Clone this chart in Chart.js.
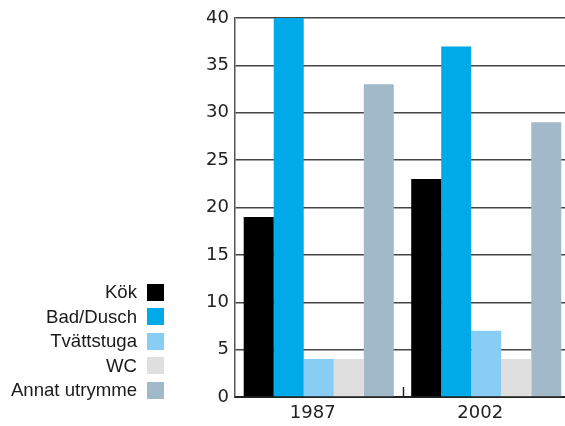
<!DOCTYPE html>
<html>
<head>
<meta charset="utf-8">
<script src="https://cdn.jsdelivr.net/npm/chart.js@4/dist/chart.umd.min.js"></script>
<style>
  html, body { margin: 0; padding: 0; background: #fff; overflow: hidden; }
  #wrap { position: relative; width: 570px; height: 426px; }
  #legend {
    position: absolute; left: 0; top: 280px; width: 164px;
    font-family: "Liberation Sans", Arial, sans-serif; font-size: 18.6px; color: #1a1a1a;
  }
  #legend .row { display: flex; justify-content: flex-end; align-items: center; height: 24.5px; }
  #legend .box { width: 17px; height: 17px; margin-left: 10px; flex: none; }
</style>
</head>
<body>
<div id="wrap">
  <canvas id="chart"></canvas>
  <div id="legend"></div>
</div>
<script>
"use strict";

// Data
const years = ["1987", "2002"];
const rooms = ["Kök", "Bad/Dusch", "Tvättstuga", "WC", "Annat utrymme"];
const kok = [19, 23];
const badDusch = [40, 37];
const tvattstuga = [4, 7];
const wc = [4, 4];
const annat = [33, 29];
const yTicks = [0, 5, 10, 15, 20, 25, 30, 35, 40];

const seriesValues = [kok, badDusch, tvattstuga, wc, annat];
const seriesColors = ["#000000", "#00aae9", "#88cdf3", "#dfdfdf", "#a2b9c9"];

const PLOT_LEFT = 235; // x of the y axis in the reference
const X_AXIS_HEIGHT = 29; // room under the plot for the year labels

// legend: text on the left, swatch on the right
const legendEl = document.getElementById("legend");
rooms.forEach((name, i) => {
  const row = document.createElement("div");
  row.className = "row";
  const label = document.createElement("span");
  label.textContent = name;
  const box = document.createElement("span");
  box.className = "box";
  box.style.background = seriesColors[i];
  row.appendChild(label);
  row.appendChild(box);
  legendEl.appendChild(row);
});

// small tick mark between the year groups, rising from the x axis
const groupDivider = {
  id: "groupDivider",
  afterDatasetsDraw(chart) {
    const x = chart.scales.x;
    const y = chart.scales.y;
    const ctx = chart.ctx;
    ctx.save();
    ctx.strokeStyle = "#222";
    ctx.lineWidth = 1.5;
    for (let i = 0; i < years.length - 1; i++) {
      const px = Math.round((x.getPixelForValue(i) + x.getPixelForValue(i + 1)) / 2) + 0.5;
      const base = y.getPixelForValue(0);
      ctx.beginPath();
      ctx.moveTo(px, base);
      ctx.lineTo(px, base - 10);
      ctx.stroke();
    }
    ctx.restore();
  },
};

const tickFont = { family: "'DejaVu Sans', sans-serif", size: 18 };

const ctx = document.getElementById("chart").getContext("2d");
new Chart(ctx, {
  type: "bar",
  data: {
    labels: years,
    datasets: rooms.map((name, i) => ({
      label: name,
      data: seriesValues[i],
      backgroundColor: seriesColors[i],
      borderWidth: 0,
      categoryPercentage: 0.896,
      barPercentage: 1.0,
    })),
  },
  options: {
    responsive: true,
    maintainAspectRatio: false,
    animation: false,
    layout: { padding: { top: 18, right: 0, bottom: 0, left: 0 } },
    plugins: {
      tooltip: { enabled: false },
      legend: { display: false },
    },
    scales: {
      x: {
        afterFit(scale) {
          scale.height = X_AXIS_HEIGHT;
        },
        grid: { display: false, drawTicks: false },
        border: { display: true, color: "#222", width: 2 },
        ticks: { color: "#222", padding: 6, labelOffset: -6, font: tickFont },
      },
      y: {
        min: 0,
        max: 40,
        afterBuildTicks(scale) {
          scale.ticks = yTicks.map((v) => ({ value: v }));
        },
        afterFit(scale) {
          scale.width = PLOT_LEFT;
        },
        grid: { color: "#454545", lineWidth: 1.5, drawTicks: false },
        border: { display: true, color: "#555", width: 1.5 },
        ticks: { color: "#222", padding: 6, font: tickFont },
      },
    },
  },
  plugins: [groupDivider],
});
</script>
</body>
</html>
